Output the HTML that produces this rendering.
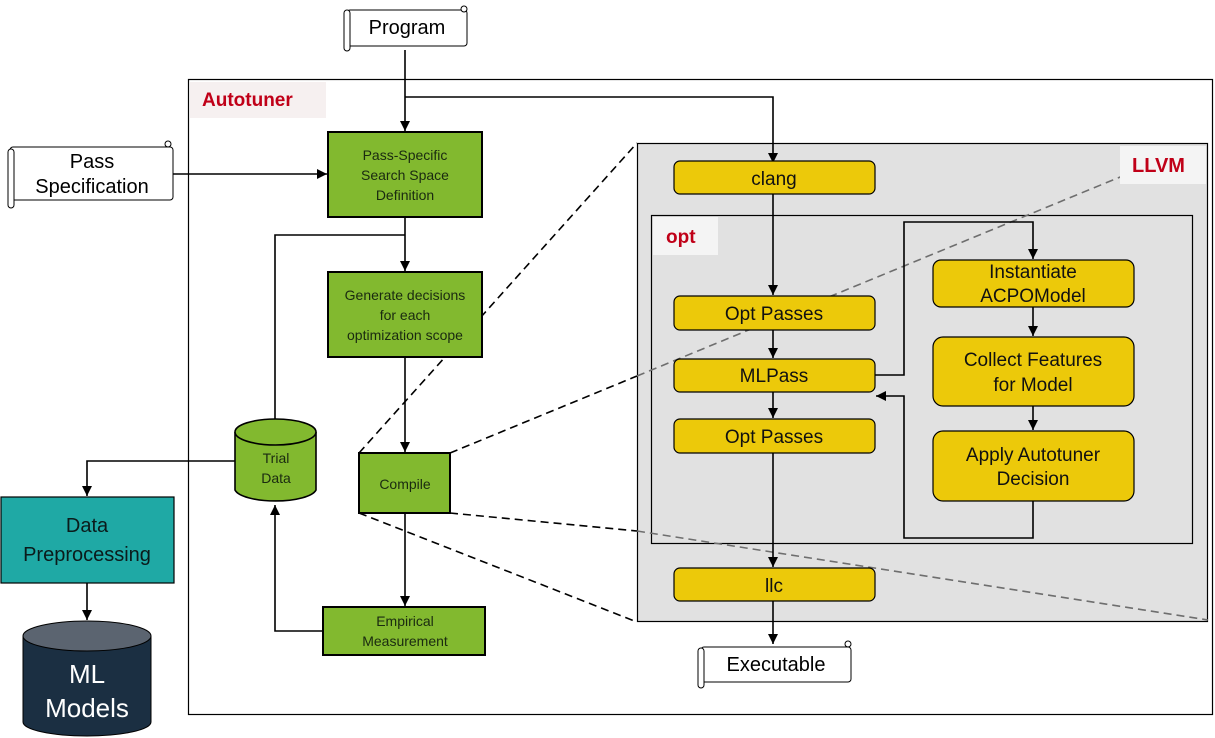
<!DOCTYPE html>
<html><head><meta charset="utf-8"><style>
html,body{margin:0;padding:0;background:#fff;}
svg{display:block;font-family:"Liberation Sans",sans-serif;}
</style></head><body>
<svg width="1215" height="738" viewBox="0 0 1215 738" xmlns="http://www.w3.org/2000/svg">
<defs>
<marker id="a" viewBox="0 0 10 10" refX="10" refY="5" markerWidth="10" markerHeight="10" markerUnits="userSpaceOnUse" orient="auto"><path d="M0,0 L10,5 L0,10 z" fill="#000"/></marker>
</defs>
<rect x="0" y="0" width="1215" height="738" fill="#fff"/>
<!-- Autotuner box -->
<rect x="188.5" y="79.5" width="1024" height="635" fill="#fff" stroke="#000" stroke-width="1.2"/>
<rect x="190" y="82" width="136" height="36" fill="#f6f0f0"/>
<text x="202" y="106" font-size="19" font-weight="bold" fill="#c00018">Autotuner</text>

<!-- dashed black outside -->
<g stroke="#000" stroke-width="1.6" stroke-dasharray="8,5" fill="none">
<line x1="359" y1="453" x2="637" y2="143"/>
<line x1="450" y1="453" x2="637" y2="376"/>
<line x1="359" y1="513" x2="637" y2="622"/>
<line x1="450" y1="513" x2="637" y2="531"/>
</g>

<!-- LLVM box -->
<rect x="637.5" y="143.5" width="570" height="478" fill="#e1e1e1" stroke="#000" stroke-width="1.2"/>
<rect x="651.5" y="215.5" width="541" height="328" fill="#e1e1e1" stroke="#000" stroke-width="1.2"/>
<g stroke="#6e6e6e" stroke-width="1.6" stroke-dasharray="8,5" fill="none">
<line x1="637" y1="376" x2="1125" y2="175"/>
<line x1="637" y1="531" x2="1208" y2="620"/>
</g>
<rect x="1120" y="146" width="86" height="38" fill="#f4f4f4"/>
<text x="1132" y="172" font-size="20" font-weight="bold" fill="#c00018">LLVM</text>
<rect x="653" y="217" width="65" height="38" fill="#f4f4f4"/>
<text x="666" y="243" font-size="19" font-weight="bold" fill="#c00018">opt</text>

<!-- connectors -->
<g stroke="#000" stroke-width="1.6" fill="none">
<line x1="405" y1="50" x2="405" y2="131" marker-end="url(#a)"/>
<polyline points="405,97 773,97 773,163" marker-end="url(#a)"/>
<line x1="173" y1="174" x2="327" y2="174" marker-end="url(#a)"/>
<line x1="405" y1="217" x2="405" y2="271" marker-end="url(#a)"/>
<polyline points="405,235 275,235 275,420"/>
<line x1="405" y1="357" x2="405" y2="452" marker-end="url(#a)"/>
<line x1="405" y1="513" x2="405" y2="606" marker-end="url(#a)"/>
<polyline points="323,631 275,631 275,505" marker-end="url(#a)"/>
<polyline points="236,461 87,461 87,496" marker-end="url(#a)"/>
<line x1="87" y1="583" x2="87" y2="620" marker-end="url(#a)"/>
<line x1="773" y1="194" x2="773" y2="295" marker-end="url(#a)"/>
<line x1="773" y1="330" x2="773" y2="358" marker-end="url(#a)"/>
<line x1="773" y1="392" x2="773" y2="418" marker-end="url(#a)"/>
<line x1="773" y1="453" x2="773" y2="567" marker-end="url(#a)"/>
<line x1="773" y1="601" x2="773" y2="644" marker-end="url(#a)"/>
<polyline points="875,375 904,375 904,222 1033,222 1033,259" marker-end="url(#a)"/>
<line x1="1033" y1="307" x2="1033" y2="336" marker-end="url(#a)"/>
<line x1="1033" y1="406" x2="1033" y2="430" marker-end="url(#a)"/>
<polyline points="1033,501 1033,538 904,538 904,396 876,396" marker-end="url(#a)"/>
</g>

<!-- scrolls -->
<g stroke="#000" stroke-width="1" fill="#fff">
<rect x="347" y="10" width="120" height="36" rx="3"/>
<rect x="344" y="10" width="6" height="41" rx="3"/>
<circle cx="464" cy="9" r="3"/>
<rect x="10" y="147" width="163" height="53" rx="3"/>
<rect x="8" y="149" width="6" height="59" rx="3"/>
<circle cx="168" cy="144" r="3"/>
<rect x="701" y="647" width="150" height="35" rx="3"/>
<rect x="698" y="648" width="6" height="40" rx="3"/>
<circle cx="848" cy="644" r="3"/>
</g>
<g font-size="20" text-anchor="middle" fill="#000">
<text x="407" y="34">Program</text>
<text x="92" y="168">Pass</text>
<text x="92" y="193">Specification</text>
<text x="776" y="671">Executable</text>
</g>

<!-- green boxes -->
<g fill="#82b92f" stroke="#000" stroke-width="2">
<rect x="328" y="132" width="154" height="85"/>
<rect x="328" y="272" width="154" height="85"/>
<rect x="359" y="453" width="91" height="60"/>
<rect x="323" y="607" width="162" height="48"/>
</g>
<g font-size="14" text-anchor="middle" fill="#1a2a10">
<text x="405" y="160">Pass-Specific</text>
<text x="405" y="180">Search Space</text>
<text x="405" y="200">Definition</text>
<text x="405" y="300">Generate decisions</text>
<text x="405" y="320">for each</text>
<text x="405" y="340">optimization scope</text>
<text x="405" y="489">Compile</text>
<text x="405" y="626">Empirical</text>
<text x="405" y="646">Measurement</text>
<text x="276" y="463">Trial</text>
<text x="276" y="483">Data</text>
</g>
<!-- trial data cylinder -->
<g stroke="#000" stroke-width="1.6" fill="#82b92f">
<path d="M235,432 L235,490 A41,13 0 0 0 316,490 L316,432"/>
<ellipse cx="275.5" cy="432" rx="40.5" ry="13"/>
</g>
<g font-size="14" text-anchor="middle" fill="#1a2a10">
<text x="276" y="463">Trial</text>
<text x="276" y="483">Data</text>
</g>

<!-- data preprocessing -->
<rect x="1" y="497" width="173" height="86" fill="#1fa9a5" stroke="#000" stroke-width="1.2"/>
<g font-size="20" text-anchor="middle" fill="#0b1b1b">
<text x="87" y="532">Data</text>
<text x="87" y="561">Preprocessing</text>
</g>
<!-- ML models -->
<path d="M23,636 L23,722 A64,14 0 0 0 151,722 L151,636" fill="#1b2f42" stroke="#000"/>
<ellipse cx="87" cy="636" rx="64" ry="15" fill="#5b6470" stroke="#000"/>
<g font-size="26" text-anchor="middle" fill="#fff">
<text x="87" y="683">ML</text>
<text x="87" y="717">Models</text>
</g>

<!-- yellow boxes -->
<g fill="#ecc90a" stroke="#000" stroke-width="1.2">
<rect x="674" y="161" width="201" height="33" rx="6"/>
<rect x="674" y="296" width="201" height="34" rx="6"/>
<rect x="674" y="359" width="201" height="33" rx="6"/>
<rect x="674" y="419" width="201" height="34" rx="6"/>
<rect x="674" y="568" width="201" height="33" rx="6"/>
<rect x="933" y="260" width="201" height="47" rx="8"/>
<rect x="933" y="337" width="201" height="69" rx="10"/>
<rect x="933" y="431" width="201" height="70" rx="10"/>
</g>
<g font-size="19" text-anchor="middle" fill="#111">
<text x="774" y="185">clang</text>
<text x="774" y="320">Opt Passes</text>
<text x="774" y="382">MLPass</text>
<text x="774" y="443">Opt Passes</text>
<text x="774" y="592">llc</text>
<text x="1033" y="278">Instantiate</text>
<text x="1033" y="302">ACPOModel</text>
<text x="1033" y="366">Collect Features</text>
<text x="1033" y="391">for Model</text>
<text x="1033" y="461">Apply Autotuner</text>
<text x="1033" y="485">Decision</text>
</g>
</svg>
</body></html>
